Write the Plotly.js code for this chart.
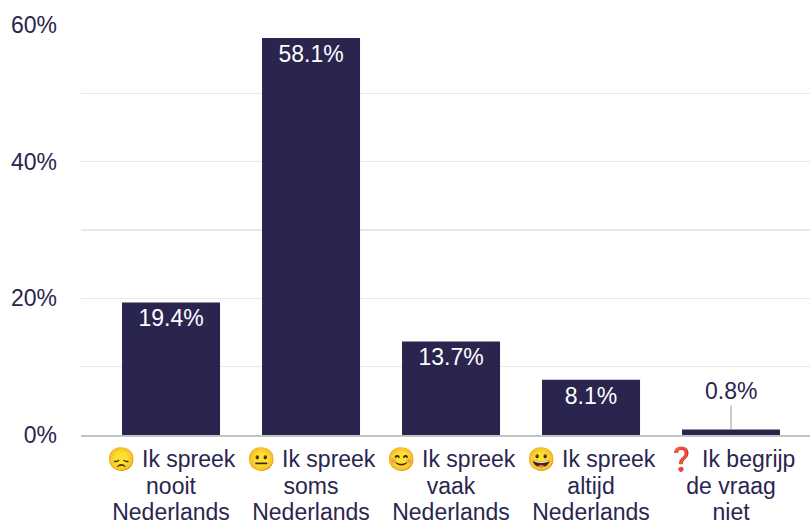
<!DOCTYPE html>
<html><head><meta charset="utf-8">
<script src="https://cdn.plot.ly/plotly-3.0.1.min.js"></script>
<style>html,body{margin:0;padding:0;background:#fff}</style></head>
<body><div id="c" style="width:810px;height:523px"></div>
<script>
const categories=["😞 Ik spreek<br>nooit<br>Nederlands","😐 Ik spreek<br>soms<br>Nederlands","😊 Ik spreek<br>vaak<br>Nederlands","😀 Ik spreek<br>altijd<br>Nederlands","❓ Ik begrijp<br>de vraag<br>niet"];
const values=[19.4,58.1,13.7,8.1,0.8];
const labels=["19.4%","58.1%","13.7%","8.1%",""];
const tickVals=[0,10,20,30,40,50,60];
const tickText=["0%","","20%","","40%","","60%"];
const font='"Liberation Sans", Helvetica, Arial, sans-serif';
const ink="#2a254f";
Plotly.newPlot("c",[{type:"bar",x:categories,y:values,text:labels,textposition:"inside",insidetextanchor:"end",
 textangle:0,cliponaxis:false,
 textfont:{color:"#ffffff",size:23,family:font},marker:{color:ink},width:0.7,hoverinfo:"skip"}],
{width:810,height:523,margin:{l:81,r:0,t:24.5,b:87.5},paper_bgcolor:"#fff",plot_bgcolor:"#fff",showlegend:false,
 font:{family:font,size:23,color:ink},
 xaxis:{type:"category",range:[-0.643,4.564],tickfont:{size:23,color:ink},showline:true,linecolor:"#c4c4c4",linewidth:2,ticks:"",showgrid:false,automargin:false,ticklabelstandoff:2},
 yaxis:{range:[0,60],tickmode:"array",tickvals:tickVals,ticktext:tickText,tickfont:{size:23,color:ink},gridcolor:"#e8e8e8",gridwidth:1.5,zeroline:false,ticks:"",automargin:false,ticklabelstandoff:23},
 annotations:[{x:4,y:0.8,xref:"x",yref:"y",text:"0.8%",showarrow:true,arrowhead:0,arrowwidth:1,arrowcolor:"#999",ax:0,ay:-24,font:{size:23,color:ink,family:font},yanchor:"bottom"}]
},{displayModeBar:false,staticPlot:true}).then(()=>{
 document.querySelectorAll(".xtick text tspan.line").forEach(t=>{
  const d=parseFloat(t.getAttribute("dy"));
  if(d) t.setAttribute("dy",(d*0.9)+"em");
 });
});
</script></body></html>
